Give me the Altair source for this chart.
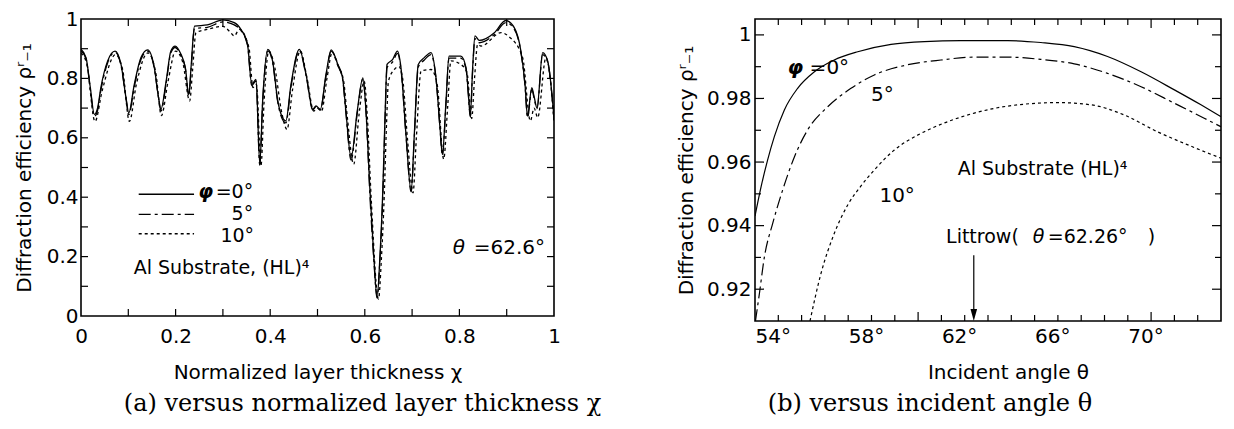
import altair as alt
import pandas as pd

# ---------------- panel (a): efficiency vs normalized layer thickness ----------------
CHI_A = [0.000, 0.0106, 0.0197, 0.0282, 0.035, 0.042, 0.0564, 0.072, 0.0846, 0.0951,
         0.101, 0.1127, 0.1268, 0.141, 0.155, 0.164, 0.169, 0.180, 0.190, 0.199,
         0.2114, 0.2206, 0.228, 0.2326, 0.240, 0.267, 0.300, 0.324, 0.338, 0.352,
         0.361, 0.370, 0.378, 0.384, 0.395, 0.405, 0.416, 0.423, 0.433, 0.444,
         0.4616, 0.4757, 0.490, 0.4968, 0.506, 0.518, 0.529, 0.543, 0.553, 0.560,
         0.571, 0.584, 0.596, 0.6025, 0.611, 0.619, 0.626, 0.632, 0.638, 0.6427,
         0.647, 0.659, 0.669, 0.6765, 0.687, 0.698, 0.7047, 0.713, 0.7258, 0.740,
         0.7505, 0.759, 0.764, 0.7717, 0.778, 0.803, 0.814, 0.819, 0.823, 0.828,
         0.833, 0.842, 0.874, 0.898, 0.916, 0.930, 0.9387, 0.944, 0.953, 0.9584,
         0.964, 0.976, 0.9866, 1.000]
EFF_A_PHI0 = [0.898, 0.870, 0.769, 0.679, 0.700, 0.769, 0.859, 0.892, 0.847, 0.735,
              0.684, 0.780, 0.870, 0.896, 0.836, 0.735, 0.696, 0.791, 0.892, 0.909,
              0.881, 0.836, 0.746, 0.836, 0.976, 0.980, 0.997, 0.988, 0.965, 0.915,
              0.780, 0.797, 0.511, 0.724, 0.898, 0.859, 0.724, 0.679, 0.657, 0.780,
              0.898, 0.814, 0.696, 0.707, 0.696, 0.814, 0.896, 0.847, 0.802, 0.690,
              0.533, 0.690, 0.802, 0.690, 0.420, 0.200, 0.062, 0.200, 0.420, 0.668,
              0.847, 0.864, 0.892, 0.836, 0.612, 0.421, 0.612, 0.847, 0.870, 0.887,
              0.802, 0.634, 0.544, 0.724, 0.875, 0.875, 0.836, 0.746, 0.673, 0.836,
              0.943, 0.928, 0.954, 0.995, 0.971, 0.892, 0.780, 0.673, 0.769, 0.735,
              0.701, 0.887, 0.859, 0.668]
EFF_A_PHI5 = [0.893, 0.866, 0.764, 0.672, 0.692, 0.760, 0.853, 0.888, 0.843, 0.733,
              0.678, 0.772, 0.864, 0.892, 0.833, 0.733, 0.690, 0.783, 0.886, 0.904,
              0.877, 0.833, 0.740, 0.826, 0.968, 0.972, 0.990, 0.980, 0.962, 0.912,
              0.776, 0.792, 0.508, 0.716, 0.893, 0.855, 0.720, 0.673, 0.650, 0.772,
              0.894, 0.811, 0.694, 0.704, 0.693, 0.808, 0.892, 0.843, 0.798, 0.685,
              0.525, 0.682, 0.798, 0.688, 0.400, 0.190, 0.060, 0.190, 0.400, 0.652,
              0.836, 0.856, 0.884, 0.830, 0.610, 0.418, 0.602, 0.838, 0.862, 0.880,
              0.800, 0.632, 0.540, 0.716, 0.868, 0.868, 0.832, 0.744, 0.670, 0.826,
              0.934, 0.920, 0.948, 0.988, 0.966, 0.888, 0.776, 0.668, 0.762, 0.730,
              0.698, 0.880, 0.855, 0.662]
CHI_A10 = [0.000, 0.012, 0.0296, 0.045, 0.073, 0.088, 0.1023, 0.117, 0.1416, 0.158,
           0.170, 0.184, 0.200, 0.215, 0.2297, 0.236, 0.243, 0.267, 0.300, 0.316,
           0.324, 0.3347, 0.355, 0.3636, 0.371, 0.3805, 0.387, 0.397, 0.408, 0.425,
           0.4355, 0.447, 0.4637, 0.478, 0.492, 0.499, 0.5085, 0.520, 0.531, 0.545,
           0.5553, 0.563, 0.5765, 0.588, 0.5988, 0.605, 0.614, 0.629, 0.635, 0.641,
           0.646, 0.650, 0.6624, 0.672, 0.680, 0.690, 0.702, 0.709, 0.719, 0.740,
           0.753, 0.7668, 0.775, 0.782, 0.803, 0.816, 0.826, 0.832, 0.8386, 0.8457,
           0.888, 0.9052, 0.9337, 0.950, 0.958, 0.9655, 0.983, 0.992, 1.000]
EFF_A_PHI10 = [0.885, 0.850, 0.655, 0.760, 0.880, 0.830, 0.655, 0.780, 0.886, 0.820,
               0.675, 0.790, 0.892, 0.855, 0.724, 0.830, 0.954, 0.965, 0.975, 0.955,
               0.943, 0.965, 0.904, 0.769, 0.780, 0.505, 0.720, 0.892, 0.850, 0.680,
               0.628, 0.760, 0.892, 0.800, 0.690, 0.700, 0.690, 0.800, 0.887, 0.838,
               0.791, 0.670, 0.511, 0.680, 0.791, 0.680, 0.380, 0.057, 0.190, 0.400,
               0.650, 0.791, 0.830, 0.840, 0.800, 0.600, 0.415, 0.600, 0.825, 0.830,
               0.780, 0.528, 0.700, 0.859, 0.847, 0.820, 0.665, 0.800, 0.915, 0.909,
               0.954, 0.940, 0.870, 0.657, 0.700, 0.668, 0.870, 0.800, 0.650]

A_X_LABELS = [0, 0.2, 0.4, 0.6, 0.8, 1]
A_Y_LABELS = [0, 0.2, 0.4, 0.6, 0.8, 1]
A_X_TICKS = [0.1, 0.2, 0.3, 0.4, 0.5, 0.6, 0.7, 0.8, 0.9]
A_Y_TICKS = [0.1, 0.2, 0.3, 0.4, 0.5, 0.6, 0.7, 0.8, 0.9]

# ---------------- panel (b): efficiency vs incident angle ----------------
THETA_PHI0 = [54.0, 54.26, 54.54, 54.83, 55.26, 55.83, 56.55, 57.4, 58.41, 59.84,
              61.27, 62.84, 64.85, 66.27, 67.7, 69.13, 70.57, 72.0, 73.14, 74.0]
EFF_B_PHI0 = [0.943, 0.9522, 0.9606, 0.968, 0.9764, 0.9832, 0.9884, 0.9921, 0.9947, 0.997,
              0.9979, 0.9982, 0.9982, 0.9976, 0.9963, 0.9932, 0.9884, 0.9827, 0.978, 0.9743]
THETA_PHI5 = [54.02, 54.19, 54.4, 54.76, 55.2, 55.69, 56.26, 57.12, 58.12, 59.12,
              60.55, 61.98, 63.41, 64.85, 66.27, 67.7, 69.13, 70.57, 72.0, 73.28, 74.0]
EFF_B_PHI5 = [0.910, 0.9187, 0.930, 0.9407, 0.9515, 0.9616, 0.9701, 0.9774, 0.9832, 0.9874,
              0.9906, 0.9921, 0.993, 0.993, 0.9923, 0.9909, 0.9879, 0.9837, 0.9785, 0.9738, 0.9711]
THETA_PHI10 = [56.36, 56.83, 57.4, 57.98, 58.55, 59.12, 59.98, 61.12, 62.2, 63.41,
               64.85, 66.99, 68.42, 69.85, 71.28, 72.71, 74.0]
EFF_B_PHI10 = [0.910, 0.9249, 0.9375, 0.9465, 0.9525, 0.9575, 0.9638, 0.969, 0.9725, 0.9754,
               0.9776, 0.9787, 0.978, 0.9748, 0.9695, 0.9650, 0.9612]

B_X_LABELS = [54, 58, 62, 66, 70]
B_Y_LABELS = [0.92, 0.94, 0.96, 0.98, 1.0]
B_X_TICKS = [55, 56, 57, 58, 59, 60, 62, 63, 64, 65, 66, 67, 68, 69, 70, 72, 73]
B_X_TICKS_LONG = [61, 71]
B_Y_TICKS_MAJOR = [0.92, 0.94, 0.96, 0.98, 1.0]
B_Y_TICKS_MINOR = [0.93, 0.95, 0.97, 0.99]
LITTROW_ARROW_THETA = [63.39]

SANS = "DejaVu Sans"
SERIF = "DejaVu Serif"
DASHDOT = [12, 4, 3, 4]
DOTTED = [3, 3]

WA, HA = 473, 297
WB, HB = 466, 302

xs_a = alt.Scale(domain=[0, 1], nice=False, zero=False)
ys_a = alt.Scale(domain=[0, 1], nice=False, zero=False)
xs_b = alt.Scale(domain=[54, 74], nice=False, zero=False)
ys_b = alt.Scale(domain=[0.91, 1.005], nice=False, zero=False)

Y_TITLE = "Diffraction efficiency ρʳ₋₁"

AX_A_X = alt.Axis(title="Normalized layer thickness χ", values=A_X_LABELS, format="~g",
                  labelFlush=False, labelOverlap=False, labelPadding=10, titlePadding=16)
AX_A_Y = alt.Axis(title=Y_TITLE, values=A_Y_LABELS, format="~g",
                  labelFlush=False, labelOverlap=False, labelPadding=3, titlePadding=12)
AX_B_X = alt.Axis(title="Incident angle θ", values=B_X_LABELS, labelExpr="datum.value + '°'",
                  labelAlign="left", labelFlush=False, labelOverlap=False,
                  labelPadding=5, titlePadding=16, titleX=253)
AX_B_Y = alt.Axis(title=Y_TITLE, values=B_Y_LABELS, format="~g",
                  labelFlush=False, labelOverlap=False, labelPadding=4, titlePadding=10)


class Panel:
    def __init__(self, xs, ys, xa, ya, W, H):
        self.xs, self.ys, self.xa, self.ya, self.W, self.H = xs, ys, xa, ya, W, H

    def X(self, field="x"):
        return alt.X(f"{field}:Q", scale=self.xs, axis=self.xa)

    def Y(self, field="y"):
        return alt.Y(f"{field}:Q", scale=self.ys, axis=self.ya)

    def curve(self, x, y, dash=None, width=1.3):
        df = pd.DataFrame({"x": x, "y": y})
        kw = dict(color="black", strokeWidth=width, interpolate="monotone", clip=True)
        if dash:
            kw["strokeDash"] = dash
        return alt.Chart(df).mark_line(**kw).encode(x=self.X(), y=self.Y(), order="x:Q")

    def xticks(self, vals, length):
        df = pd.DataFrame({"x": vals})
        base = alt.Chart(df).mark_rule(color="black", strokeWidth=1.2)
        return [
            base.encode(x=self.X(), y=alt.value(self.H), y2=alt.value(self.H - length)),
            base.encode(x=self.X(), y=alt.value(0), y2=alt.value(length)),
        ]

    def yticks(self, vals, length):
        df = pd.DataFrame({"y": vals})
        base = alt.Chart(df).mark_rule(color="black", strokeWidth=1.2)
        return [
            base.encode(y=self.Y(), x=alt.value(0), x2=alt.value(length)),
            base.encode(y=self.Y(), x=alt.value(self.W), x2=alt.value(self.W - length)),
        ]

    def label(self, text, x, y, align="left", size=20, style="normal", dx=0, weight="normal"):
        df = pd.DataFrame({"x": [x], "y": [y], "t": [text]})
        return alt.Chart(df).mark_text(
            align=align, baseline="alphabetic", font=SANS, fontSize=size,
            fontStyle=style, fontWeight=weight, dx=dx, color="black"
        ).encode(x=self.X(), y=self.Y(), text="t:N")

    def legend_line(self, x0, x1, y, dash=None):
        df = pd.DataFrame({"x": [x0], "x2": [x1], "y": [y]})
        kw = dict(color="black", strokeWidth=1.3)
        if dash:
            kw["strokeDash"] = dash
        return alt.Chart(df).mark_rule(**kw).encode(x=self.X(), x2="x2:Q", y=self.Y())


# ---------- panel (a) ----------
pa = Panel(xs_a, ys_a, AX_A_X, AX_A_Y, WA, HA)
layers_a = [
    pa.curve(CHI_A, EFF_A_PHI0),
    pa.curve(CHI_A, EFF_A_PHI5, dash=DASHDOT),
    pa.curve(CHI_A10, EFF_A_PHI10, dash=DOTTED),
]
layers_a += pa.xticks(A_X_TICKS, 7)
layers_a += pa.yticks(A_Y_TICKS, 7)
layers_a += [
    pa.legend_line(0.122, 0.239, 0.410),
    pa.legend_line(0.122, 0.239, 0.342, DASHDOT),
    pa.legend_line(0.122, 0.239, 0.277, DOTTED),
    pa.label("φ", 0.364, 0.397, align="right", dx=-40, size=19, style="italic", weight="bold"),
    pa.label("=0°", 0.364, 0.397, align="right", size=19),
    pa.label("5°", 0.364, 0.322, align="right", size=19),
    pa.label("10°", 0.366, 0.249, align="right", size=19),
    pa.label("Al Substrate, (HL)⁴", 0.1113, 0.140, size=19),
    pa.label("θ", 0.786, 0.208, style="italic"),
    pa.label("=62.6°", 0.786, 0.208, dx=21),
]

panel_a = alt.layer(*layers_a).properties(
    width=WA, height=HA,
    title=alt.TitleParams("(a) versus normalized layer thickness χ", orient="bottom",
                          anchor="middle", frame="group", dx=45, offset=10),
)

# ---------- panel (b) ----------
pb = Panel(xs_b, ys_b, AX_B_X, AX_B_Y, WB, HB)
layers_b = [
    pb.curve(THETA_PHI0, EFF_B_PHI0, width=1.2),
    pb.curve(THETA_PHI5, EFF_B_PHI5, dash=DASHDOT, width=1.2),
    pb.curve(THETA_PHI10, EFF_B_PHI10, dash=DOTTED, width=1.2),
]
layers_b += pb.xticks(B_X_TICKS, 6)
layers_b += pb.xticks(B_X_TICKS_LONG, 9)
layers_b += pb.yticks(B_Y_TICKS_MAJOR, 9)
layers_b += pb.yticks(B_Y_TICKS_MINOR, 6)

arrow_df = pd.DataFrame({"x": LITTROW_ARROW_THETA, "y": [0.9307], "y2": [0.9135], "yh": [0.9119]})
arrow_line = alt.Chart(arrow_df).mark_rule(color="black", strokeWidth=1.2).encode(
    x=pb.X(), y=pb.Y(), y2="y2:Q")
arrow_head = alt.Chart(arrow_df).mark_point(
    shape="M -0.55 -1 L 0.55 -1 L 0 1 Z", size=144, filled=True, color="black", opacity=1
).encode(x=pb.X(), y=pb.Y("yh"))

layers_b += [
    arrow_line, arrow_head,
    pb.label("φ", 55.40, 0.9877, style="italic", weight="bold"),
    pb.label("=0°", 55.40, 0.9877, dx=22),
    pb.label("5°", 58.98, 0.9792),
    pb.label("10°", 59.34, 0.9475),
    pb.label("Al Substrate (HL)⁴", 62.70, 0.9559, size=19),
    pb.label("Littrow(", 62.20, 0.9344, size=19),
    pb.label("θ", 62.20, 0.9344, size=19, style="italic", dx=86.7),
    pb.label("=62.26°", 62.20, 0.9344, size=19, dx=101.7),
    pb.label(")", 62.20, 0.9344, size=19, dx=201.7),
]

panel_b = alt.layer(*layers_b).properties(
    width=WB, height=HB,
    title=alt.TitleParams("(b) versus incident angle θ", orient="bottom",
                          anchor="middle", frame="group", dx=-58, offset=10),
)

chart = alt.hconcat(panel_a, panel_b, spacing=201, bounds="flush").properties(
    padding={"left": 5, "top": 0, "right": 0, "bottom": 0}
).configure_axis(
    domain=False, ticks=False, tickSize=0, grid=False,
    labelFont=SANS, labelFontSize=20, labelColor="black",
    titleFont=SANS, titleFontSize=20, titleFontWeight="normal", titleColor="black",
).configure_view(
    stroke="black", strokeWidth=1.6
).configure_title(
    font=SERIF, fontSize=24, fontWeight="normal", color="black"
)

chart.save("out.html", embed_options={"renderer": "svg", "actions": False})
